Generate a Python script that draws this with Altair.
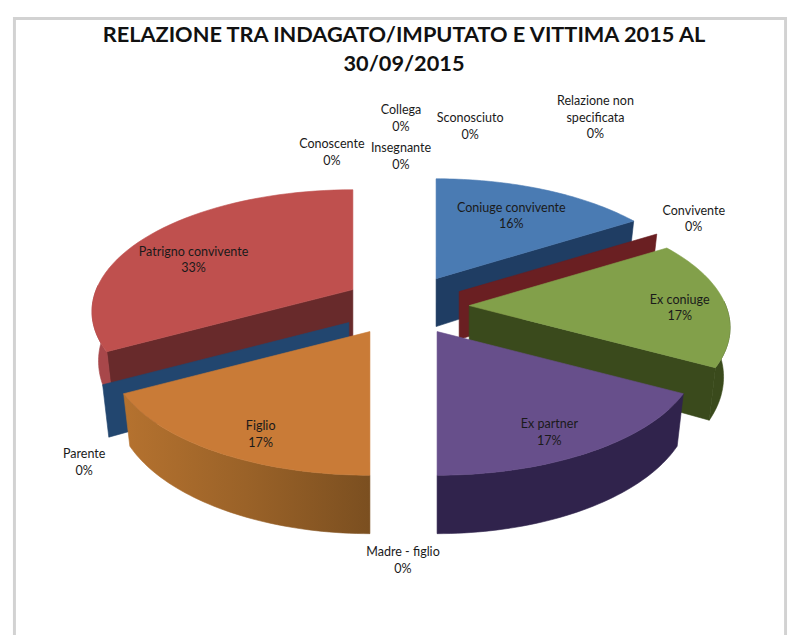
import math
import altair as alt
import pandas as pd

# ---- chart values ----
categories = ["Coniuge convivente", "Convivente", "Ex coniuge", "Madre - figlio", "Ex partner",
              "Figlio", "Parente", "Patrigno convivente", "Conoscente", "Insegnante",
              "Collega", "Sconosciuto", "Relazione non specificata"]
percent = [16, 0, 17, 0, 17, 17, 0, 33, 0, 0, 0, 0, 0]
title_text = "RELAZIONE TRA INDAGATO/IMPUTATO E VITTIMA 2015 AL\n30/09/2015"

# ---- styling and layout ----
top_color = {"Coniuge convivente": "#4a7bb3", "Ex coniuge": "#82a04a", "Ex partner": "#674f8b",
             "Figlio": "#c97b37", "Patrigno convivente": "#bf504e"}
wall_color = {"Coniuge convivente": "#1f3d63", "Convivente": "#6a1f22", "Ex coniuge": "#3a4a1c",
              "Ex partner": "#30234c", "Parente": "#22466f", "Patrigno convivente": "#682a2b"}
apex = {"Coniuge convivente": (435, 279), "Convivente": (458, 292), "Ex coniuge": (468, 306),
        "Ex partner": (436, 332), "Figlio": (369, 332), "Parente": (348, 323),
        "Patrigno convivente": (352, 290)}
# centre of each label's first line
label_pos = {"Coniuge convivente": (510, 208), "Convivente": (692, 211), "Ex coniuge": (678, 300),
             "Ex partner": (548, 425), "Madre - figlio": (402, 553), "Figlio": (260, 427),
             "Parente": (84, 455), "Patrigno convivente": (193, 252), "Conoscente": (331, 144),
             "Insegnante": (400, 148), "Collega": (400, 110), "Sconosciuto": (469, 118),
             "Relazione non specificata": (594, 101)}
label_text = {"Relazione non specificata": "Relazione non\nspecificata"}
RX, RY, K, DEPTH, SHRINK = 256, 118, 0.18, 48, 0.975
X_DOM, Y_DOM = [12.9, 785.1], [636, 16.9]
W, H = 784, 626

x_enc = alt.X("x:Q", scale=alt.Scale(domain=X_DOM, nice=False), axis=None)
y_enc = alt.Y("y:Q", scale=alt.Scale(domain=Y_DOM, nice=False), axis=None)


def angles():
    out, cum = {}, 0
    for c, p in zip(categories, percent):
        out[c] = (cum * 3.6, (cum + p) * 3.6)
        cum += p
    return out


ANG = angles()


def top_pt(c, deg):
    t = math.radians(deg)
    u, v = math.sin(t), math.cos(t)
    w = 1 + K * v
    return apex[c][0] + RX * u / w, apex[c][1] - RY * v / w


def bot_pt(c, deg):
    t = math.radians(deg)
    v = math.cos(t)
    x, y = top_pt(c, deg)
    return apex[c][0] + (x - apex[c][0]) * SHRINK, y + DEPTH / (1 + K * v)


def poly(pts, fill):
    df = pd.DataFrame({"x": [p[0] for p in pts], "y": [p[1] for p in pts], "o": range(len(pts))})
    return alt.Chart(df).mark_line(interpolate="linear-closed", fill=fill, stroke=fill,
                                   strokeWidth=0.6, clip=False).encode(
        x=x_enc, y=y_enc, order="o:Q")


def sweep(a, b, n=48):
    return [a + (b - a) * i / n for i in range(n + 1)]


def top_face(c):
    a, b = ANG[c]
    return poly([apex[c]] + [top_pt(c, d) for d in sweep(a, b)], top_color[c])


def cut_wall(c, deg):
    A = apex[c]
    return poly([A, top_pt(c, deg), bot_pt(c, deg), (A[0], A[1] + DEPTH)], wall_color[c])


def outer_wall(c, a, b, fill):
    pts = [top_pt(c, d) for d in sweep(a, b)] + [bot_pt(c, d) for d in sweep(b, a)]
    return poly(pts, fill)


figlio_gradient = alt.LinearGradient(gradient="linear", x1=0, y1=0, x2=1, y2=0, stops=[
    alt.GradientStop(color="#b5722f", offset=0),
    alt.GradientStop(color="#9a6228", offset=0.5),
    alt.GradientStop(color="#7b4f20", offset=1)])

layers = [
    cut_wall("Patrigno convivente", ANG["Patrigno convivente"][0]),
    outer_wall("Patrigno convivente", 241, 272, "#a8474a"),
    top_face("Patrigno convivente"),
    cut_wall("Parente", ANG["Parente"][0]),
    outer_wall("Figlio", 180, ANG["Figlio"][1], figlio_gradient),
    top_face("Figlio"),
    cut_wall("Coniuge convivente", ANG["Coniuge convivente"][1]),
    top_face("Coniuge convivente"),
    cut_wall("Convivente", ANG["Convivente"][0]),
    cut_wall("Ex coniuge", ANG["Ex coniuge"][1]),
    outer_wall("Ex coniuge", 88, ANG["Ex coniuge"][1], wall_color["Ex coniuge"]),
    top_face("Ex coniuge"),
    outer_wall("Ex partner", ANG["Ex partner"][0], 180, wall_color["Ex partner"]),
    top_face("Ex partner"),
]

rows = []
for c, p in zip(categories, percent):
    x, y = label_pos[c]
    rows.append({"x": x, "y": y, "t": f"{label_text.get(c, c)}\n{p}%"})
labels = alt.Chart(pd.DataFrame(rows)).mark_text(
    font="Lato", fontSize=12.7, lineBreak="\n", lineHeight=17, color="#1a1a1a",
    align="center", baseline="middle", clip=False).encode(x=x_enc, y=y_enc, text="t:N")

title_mark = alt.Chart(pd.DataFrame({"x": [403], "y": [35], "t": [title_text]})).mark_text(
    font="Lato", fontSize=22, fontWeight="bold", lineBreak="\n", lineHeight=29, color="#111111",
    align="center", baseline="middle").encode(x=x_enc, y=y_enc, text="t:N")

frame = pd.DataFrame({"x": [14.4, 14.4, 783.6, 783.6], "y": [636, 18.4, 18.4, 636], "o": range(4)})
frame_mark = alt.Chart(frame).mark_line(stroke="#d2d2d2", strokeWidth=3, clip=False).encode(
    x=x_enc, y=y_enc, order="o:Q")

chart = alt.layer(frame_mark, *layers, labels, title_mark).properties(
    width=W, height=H, padding=0,
).configure_view(stroke=None)

chart.save("out.html", embed_options={"renderer": "svg", "actions": False})
